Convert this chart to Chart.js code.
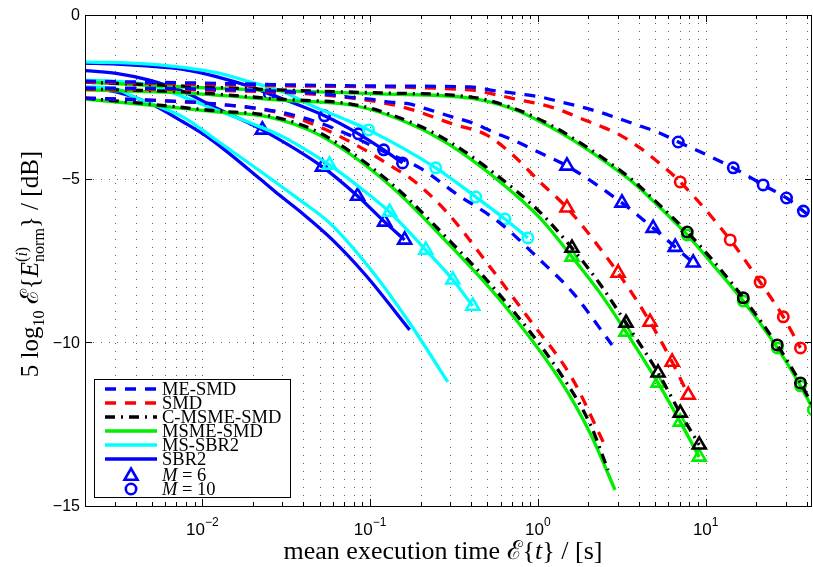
<!DOCTYPE html>
<html><head><meta charset="utf-8">
<script src="https://cdn.jsdelivr.net/npm/chart.js@4/dist/chart.umd.min.js"></script>
<style>html,body{margin:0;padding:0;background:#fff}#wrap{width:813px;height:567px;position:relative}</style>
</head><body><div id="wrap"><canvas id="c" width="813" height="567"></canvas></div>
<script>
// ---------------- axis / labels ----------------
const xMin = 0.002, xMax = 43;
const yMin = -15, yMax = 0;
const xMajorTicks = [0.01, 0.1, 1, 10];
const xTickExponents = ['\u22122', '\u22121', '0', '1'];
const yTicks = [0, -5, -10, -15];
const yTickLabels = ['0', '\u22125', '\u221210', '\u221215'];
const yGridTicks = [-5, -10];
const seriesNames = ['ME-SMD', 'SMD', 'C-MSME-SMD', 'MSME-SMD', 'MS-SBR2', 'SBR2'];
const markerNames = ['6', '10'];

// ---------------- SBR2 (blue solid) ----------------
const sbr2UnX  = [0.002, 0.00307, 0.00483, 0.0077, 0.0112, 0.0225, 0.0288, 0.038, 0.0597, 0.0953, 0.172];
const sbr2UnY  = [-2.23, -2.35, -2.69, -3.27, -3.79, -5.04, -5.50, -5.99, -6.87, -7.98, -9.62];
const sbr2M6X  = [0.002, 0.00307, 0.00483, 0.0077, 0.0121, 0.0194, 0.0228, 0.052, 0.0842, 0.122, 0.1607];
const sbr2M6Y  = [-1.70, -1.78, -1.99, -2.34, -2.84, -3.33, -3.51, -4.64, -5.53, -6.32, -6.87];
const sbr2M10X = [0.002, 0.00307, 0.00483, 0.0077, 0.0121, 0.0194, 0.0251, 0.0535, 0.0853, 0.1205, 0.156];
const sbr2M10Y = [-1.47, -1.50, -1.56, -1.66, -1.88, -2.19, -2.41, -3.08, -3.63, -4.12, -4.52];
const sbr2TriX = [0.0228, 0.052, 0.0842, 0.122, 0.1607];
const sbr2TriY = [-3.51, -4.64, -5.53, -6.32, -6.87];
const sbr2CirX = [0.0251, 0.0535, 0.0853, 0.1205, 0.156];
const sbr2CirY = [-2.41, -3.08, -3.63, -4.12, -4.52];

// ---------------- MS-SBR2 (cyan solid) ----------------
const msSbr2UnX  = [0.002, 0.00307, 0.00388, 0.0077, 0.0121, 0.0262, 0.038, 0.0573, 0.0993, 0.172, 0.2904];
const msSbr2UnY  = [-2.20, -2.26, -2.50, -3.12, -3.82, -5.04, -5.65, -6.35, -7.73, -9.41, -11.21];
const msSbr2M6X  = [0.002, 0.00352, 0.00483, 0.0077, 0.0121, 0.0194, 0.0305, 0.0573, 0.083, 0.1306, 0.2146, 0.311, 0.409];
const msSbr2M6Y  = [-1.99, -2.05, -2.14, -2.50, -2.90, -3.30, -3.73, -4.58, -5.19, -6.02, -7.18, -8.09, -8.89];
const msSbr2M10X = [0.002, 0.00483, 0.0121, 0.0194, 0.0305, 0.0454, 0.0724, 0.098, 0.246, 0.4266, 0.6355, 0.8715];
const msSbr2M10Y = [-1.43, -1.50, -1.76, -2.05, -2.35, -2.78, -3.21, -3.51, -4.67, -5.56, -6.23, -6.81];
const msSbr2TriX = [0.0573, 0.1306, 0.2146, 0.311, 0.409];
const msSbr2TriY = [-4.58, -6.02, -7.18, -8.09, -8.89];
const msSbr2CirX = [0.098, 0.246, 0.4266, 0.6355, 0.8715];
const msSbr2CirY = [-3.51, -4.67, -5.56, -6.23, -6.81];

// ---------------- MSME-SMD (green solid) ----------------
const msmeUnX  = [0.002, 0.00483, 0.0121, 0.0251, 0.050, 0.1306, 0.2985, 0.593, 1.353, 2.044, 2.883];
const msmeUnY  = [-2.57, -2.75, -2.96, -3.12, -3.67, -5.19, -7.03, -8.70, -11.15, -12.77, -14.51];
const msmeM6X  = [0.002, 0.0077, 0.0288, 0.083, 0.1795, 0.2985, 0.5383, 1.028, 1.596, 2.344, 3.35, 5.2, 7.05, 9.15];
const msmeM6Y  = [-2.29, -2.38, -2.60, -2.78, -3.36, -3.97, -4.92, -6.20, -7.39, -8.49, -9.68, -11.24, -12.43, -13.50];
const msmeM10X = [0.002, 0.00256, 0.0077, 0.0288, 0.114, 0.3926, 0.7096, 1.102, 1.618, 2.582, 3.54, 4.66, 7.76, 11.09, 16.75, 26.7, 36.7, 43.8];
const msmeM10Y = [-2.05, -2.08, -2.20, -2.31, -2.41, -2.54, -2.87, -3.33, -3.82, -4.52, -5.04, -5.59, -6.72, -7.64, -8.74, -10.17, -11.33, -12.06];
const msmeTriX = [1.596, 3.35, 5.2, 7.05, 9.15];
const msmeTriY = [-7.39, -9.68, -11.24, -12.43, -13.50];
const msmeCirX = [7.76, 16.75, 26.7, 36.7, 43.8];
const msmeCirY = [-6.72, -8.74, -10.17, -11.33, -12.06];

// ---------------- C-MSME-SMD (black dash-dot) ----------------
const cmsmeUnX  = [0.002, 0.00483, 0.0121, 0.0251, 0.050, 0.1306, 0.2985, 0.593, 1.353, 2.044, 2.618];
const cmsmeUnY  = [-2.54, -2.72, -2.93, -3.08, -3.60, -5.10, -6.90, -8.55, -10.93, -12.49, -13.90];
const cmsmeM6X  = [0.002, 0.0077, 0.0288, 0.083, 0.1795, 0.2985, 0.5383, 1.028, 1.596, 2.344, 3.35, 5.2, 7.05, 9.15];
const cmsmeM6Y  = [-2.26, -2.35, -2.57, -2.75, -3.30, -3.88, -4.80, -6.02, -7.12, -8.22, -9.41, -10.93, -12.16, -13.13];
const cmsmeM10X = [0.002, 0.0077, 0.0288, 0.114, 0.3926, 0.7096, 1.102, 1.618, 2.582, 3.54, 4.66, 7.76, 11.09, 16.75, 26.7, 36.7, 43.2];
const cmsmeM10Y = [-2.05, -2.17, -2.29, -2.38, -2.50, -2.84, -3.27, -3.76, -4.46, -4.98, -5.53, -6.63, -7.51, -8.64, -10.08, -11.24, -11.91];
const cmsmeTriX = [1.596, 3.35, 5.2, 7.05, 9.15];
const cmsmeTriY = [-7.12, -9.41, -10.93, -12.16, -13.13];
const cmsmeCirX = [7.76, 16.75, 26.7, 36.7];
const cmsmeCirY = [-6.63, -8.64, -10.08, -11.24];

// ---------------- SMD (red dashed) ----------------
const smdUnX  = [0.002, 0.00483, 0.0121, 0.0288, 0.050, 0.0865, 0.136, 0.1795, 0.2864, 0.4966, 0.896, 1.596, 2.48];
const smdUnY  = [-2.54, -2.60, -2.72, -2.99, -3.42, -4.03, -4.64, -5.04, -6.02, -7.57, -9.32, -11.09, -13.10];
const smdM6X  = [0.002, 0.0096, 0.052, 0.1306, 0.1795, 0.311, 0.4966, 0.7096, 1.028, 1.49, 3.006, 4.66, 6.31, 7.87];
const smdM6Y  = [-2.26, -2.29, -2.44, -2.72, -2.90, -3.33, -3.67, -4.28, -5.10, -5.89, -7.88, -9.38, -10.60, -11.61];
const smdM10X = [0.002, 0.038, 0.3926, 0.569, 0.7816, 1.028, 1.353, 1.782, 2.344, 3.09, 4.06, 5.35, 7.05, 14.0, 21.1, 29.0, 36.7];
const smdM10Y = [-2.05, -2.17, -2.29, -2.44, -2.60, -2.72, -2.90, -3.15, -3.39, -3.67, -4.06, -4.55, -5.10, -6.87, -8.16, -9.22, -10.17];
const smdTriX = [1.49, 3.006, 4.66, 6.31, 7.87];
const smdTriY = [-5.89, -7.88, -9.38, -10.60, -11.61];
const smdCirX = [7.05, 14.0, 21.1, 29.0, 36.7];
const smdCirY = [-5.10, -6.87, -8.16, -9.22, -10.17];

// ---------------- ME-SMD (blue dashed) ----------------
const meSmdUnX  = [0.002, 0.00483, 0.0121, 0.0288, 0.050, 0.0755, 0.122, 0.1977, 0.328, 0.593, 1.028, 1.618, 2.765];
const meSmdUnY  = [-2.54, -2.60, -2.72, -2.96, -3.30, -3.67, -4.18, -4.67, -5.47, -6.35, -7.48, -8.49, -10.08];
const meSmdM6X  = [0.002, 0.0096, 0.052, 0.0724, 0.0993, 0.1306, 0.165, 0.2266, 0.311, 0.409, 0.5383, 0.7096, 1.028, 1.49, 3.17, 4.86, 6.58, 8.42];
const meSmdM6Y  = [-2.23, -2.26, -2.41, -2.50, -2.57, -2.66, -2.70, -2.90, -3.12, -3.30, -3.57, -3.82, -4.21, -4.61, -5.74, -6.51, -7.09, -7.57];
const meSmdM10X = [0.002, 0.0096, 0.038, 0.114, 0.3926, 0.569, 0.7816, 1.028, 1.353, 1.782, 2.344, 3.09, 4.06, 5.35, 6.86, 9.27, 14.6, 22.0, 30.3, 38.2, 43.5];
const meSmdM10Y = [-2.02, -2.08, -2.14, -2.17, -2.20, -2.32, -2.41, -2.50, -2.65, -2.80, -2.97, -3.18, -3.39, -3.61, -3.88, -4.18, -4.67, -5.19, -5.59, -5.99, -6.20];
const meSmdTriX = [1.49, 3.17, 4.86, 6.58, 8.42];
const meSmdTriY = [-4.61, -5.74, -6.51, -7.09, -7.57];
const meSmdCirX = [6.86, 14.6, 22.0, 30.3, 38.2];
const meSmdCirY = [-3.88, -4.67, -5.19, -5.59, -5.99];

// ---------------- styles ----------------
const BLUE = '#0000ff', RED = '#ff0000', BLACK = '#000000', GREEN = '#00ee00', CYAN = '#00ffff';
const LW = 3.3;
const DASH = [11, 9];
const DASHDOT = [10, 6, 2, 6];
const SERIF = '"Liberation Serif", "Times New Roman", "DejaVu Serif", serif';
const SANS = '"Liberation Sans", Arial, Helvetica, sans-serif';

function pts(xs, ys) { return xs.map((x, i) => ({ x: x, y: ys[i] })); }
function lineDs(xs, ys, color, dash) {
  return { data: pts(xs, ys), showLine: true, borderColor: color, borderWidth: LW,
    borderDash: dash || [], pointRadius: 0, fill: false, cubicInterpolationMode: 'monotone',
    borderCapStyle: 'butt', borderJoinStyle: 'round' };
}
function markDs(xs, ys, color, style) {
  return { data: pts(xs, ys), showLine: false, pointStyle: style,
    pointRadius: style === 'triangle' ? 7.5 : 5.2, pointBorderWidth: 2.6,
    pointBorderColor: color, pointBackgroundColor: 'rgba(0,0,0,0)' };
}

// bottom -> top
const families = [
  { c: BLUE,  d: null,    un: [sbr2UnX, sbr2UnY],   m6: [sbr2M6X, sbr2M6Y],   m10: [sbr2M10X, sbr2M10Y],   tri: [sbr2TriX, sbr2TriY],   cir: [sbr2CirX, sbr2CirY] },
  { c: CYAN,  d: null,    un: [msSbr2UnX, msSbr2UnY], m6: [msSbr2M6X, msSbr2M6Y], m10: [msSbr2M10X, msSbr2M10Y], tri: [msSbr2TriX, msSbr2TriY], cir: [msSbr2CirX, msSbr2CirY] },
  { c: GREEN, d: null,    un: [msmeUnX, msmeUnY],   m6: [msmeM6X, msmeM6Y],   m10: [msmeM10X, msmeM10Y],   tri: [msmeTriX, msmeTriY],   cir: [msmeCirX, msmeCirY] },
  { c: BLACK, d: DASHDOT, un: [cmsmeUnX, cmsmeUnY], m6: [cmsmeM6X, cmsmeM6Y], m10: [cmsmeM10X, cmsmeM10Y], tri: [cmsmeTriX, cmsmeTriY], cir: [cmsmeCirX, cmsmeCirY] },
  { c: RED,   d: DASH,    un: [smdUnX, smdUnY],     m6: [smdM6X, smdM6Y],     m10: [smdM10X, smdM10Y],     tri: [smdTriX, smdTriY],     cir: [smdCirX, smdCirY] },
  { c: BLUE,  d: DASH,    un: [meSmdUnX, meSmdUnY], m6: [meSmdM6X, meSmdM6Y], m10: [meSmdM10X, meSmdM10Y], tri: [meSmdTriX, meSmdTriY], cir: [meSmdCirX, meSmdCirY] }
];
const stack = [];
families.forEach(f => {
  stack.push(lineDs(f.un[0], f.un[1], f.c, f.d));
  stack.push(lineDs(f.m6[0], f.m6[1], f.c, f.d));
  stack.push(lineDs(f.m10[0], f.m10[1], f.c, f.d));
  stack.push(markDs(f.tri[0], f.tri[1], f.c, 'triangle'));
  stack.push(markDs(f.cir[0], f.cir[1], f.c, 'circle'));
});
stack.forEach((d, i) => { d.order = stack.length - i; });

// legend entries (top to bottom, legend order)
const legendLines = [
  { name: seriesNames[0], c: BLUE,  d: DASH },
  { name: seriesNames[1], c: RED,   d: DASH },
  { name: seriesNames[2], c: BLACK, d: DASHDOT },
  { name: seriesNames[3], c: GREEN, d: [] },
  { name: seriesNames[4], c: CYAN,  d: [] },
  { name: seriesNames[5], c: BLUE,  d: [] }
];

function runsWidth(ctx, runs) {
  let w = 0;
  runs.forEach(r => {
    if (r.group) { w += Math.max(...r.group.map(g => runsWidth(ctx, g))); }
    else { ctx.font = r.f; w += ctx.measureText(r.t).width; }
  });
  return w;
}
function drawRuns(ctx, runs, x, y) {
  let cx = x;
  runs.forEach(r => {
    if (r.group) {
      const ws = r.group.map(g => runsWidth(ctx, g));
      r.group.forEach(g => drawRuns(ctx, g, cx, y));
      cx += Math.max(...ws);
    } else {
      ctx.font = r.f; ctx.fillText(r.t, cx, y + (r.dy || 0));
      cx += ctx.measureText(r.t).width;
    }
  });
}
function drawTriangle(ctx, x, y, r) {
  let rad = 0;
  ctx.beginPath();
  ctx.moveTo(x + Math.sin(rad) * r, y - Math.cos(rad) * r);
  rad += 2 * Math.PI / 3;
  ctx.lineTo(x + Math.sin(rad) * r, y - Math.cos(rad) * r);
  rad += 2 * Math.PI / 3;
  ctx.lineTo(x + Math.sin(rad) * r, y - Math.cos(rad) * r);
  ctx.closePath();
  ctx.stroke();
}

const decor = {
  id: 'decor',
  beforeDatasetsDraw(chart) {
    const ctx = chart.ctx, a = chart.chartArea, xs = chart.scales.x, ys = chart.scales.y;
    ctx.save();
    ctx.strokeStyle = 'rgba(0,0,0,0.6)';
    ctx.lineWidth = 1;
    ctx.setLineDash([1, 7]);
    for (let e = -3; e <= 1; e++) {
      for (let m = 1; m <= 9; m++) {
        const v = m * Math.pow(10, e);
        if (v <= xMin || v >= xMax) continue;
        const px = Math.round(xs.getPixelForValue(v)) + 0.5;
        ctx.beginPath(); ctx.moveTo(px, a.top); ctx.lineTo(px, a.bottom); ctx.stroke();
      }
    }
    yGridTicks.forEach(v => {
      const py = Math.round(ys.getPixelForValue(v)) + 0.5;
      ctx.beginPath(); ctx.moveTo(a.left, py); ctx.lineTo(a.right, py); ctx.stroke();
    });
    ctx.restore();
  },
  afterDatasetsDraw(chart) {
    const ctx = chart.ctx, a = chart.chartArea, xs = chart.scales.x, ys = chart.scales.y;
    ctx.save();
    ctx.setLineDash([]);
    ctx.strokeStyle = '#000'; ctx.lineWidth = 1;
    // box
    ctx.strokeRect(Math.round(a.left) + 0.5, Math.round(a.top) + 0.5, Math.round(a.right - a.left) - 1, Math.round(a.bottom - a.top));
    // x ticks
    for (let e = -3; e <= 1; e++) {
      for (let m = 1; m <= 9; m++) {
        const v = m * Math.pow(10, e);
        if (v <= xMin || v >= xMax) continue;
        const px = Math.round(xs.getPixelForValue(v)) + 0.5;
        const len = m === 1 ? 7 : 4;
        ctx.beginPath();
        ctx.moveTo(px, a.bottom); ctx.lineTo(px, a.bottom - len);
        ctx.moveTo(px, a.top); ctx.lineTo(px, a.top + len);
        ctx.stroke();
      }
    }
    // y ticks
    yTicks.forEach(v => {
      const py = Math.round(ys.getPixelForValue(v)) + 0.5;
      ctx.beginPath();
      ctx.moveTo(a.left, py); ctx.lineTo(a.left + 7, py);
      ctx.moveTo(a.right, py); ctx.lineTo(a.right - 7, py);
      ctx.stroke();
    });
    // y tick labels
    ctx.fillStyle = '#000';
    ctx.font = '16px ' + SANS;
    ctx.textAlign = 'right'; ctx.textBaseline = 'middle';
    yTicks.forEach((v, i) => { ctx.fillText(yTickLabels[i], a.left - 5, ys.getPixelForValue(v) + 1); });
    // x tick labels 10^e
    ctx.textAlign = 'left'; ctx.textBaseline = 'alphabetic';
    xMajorTicks.forEach((v, i) => {
      const px = xs.getPixelForValue(v);
      const runs = [{ t: '10', f: '17px ' + SANS }, { t: xTickExponents[i], f: '12px ' + SANS, dy: -9 }];
      const w = runsWidth(ctx, runs);
      drawRuns(ctx, runs, px - w / 2, a.bottom + 29);
    });
    // x axis title
    const F = '26px ' + SERIF, FI = 'italic 26px ' + SERIF;
    const xRuns = [{ t: 'mean execution time ', f: F }, { t: '\u2130', f: F }, { t: '{', f: F }, { t: 't', f: FI }, { t: '}', f: F }, { t: ' / [s]', f: F }];
    const xw = runsWidth(ctx, xRuns);
    drawRuns(ctx, xRuns, 443 - xw / 2, 559);
    // y axis title (rotated)
    const FY = '25px ' + SERIF, FYI = 'italic 25px ' + SERIF;
    const S = '16px ' + SERIF, SI = 'italic 16px ' + SERIF;
    const yRuns = [
      { t: '5 log', f: FY }, { t: '10', f: S, dy: 6 }, { t: ' \u2130{', f: FY }, { t: 'E', f: FYI },
      { group: [
        [{ t: '(', f: S, dy: -11 }, { t: 'i', f: SI, dy: -11 }, { t: ')', f: S, dy: -11 }],
        [{ t: 'norm', f: S, dy: 6 }]
      ] },
      { t: '}', f: FY }, { t: ' / [dB]', f: FY }
    ];
    const yw = runsWidth(ctx, yRuns);
    ctx.save();
    ctx.translate(38, 264);
    ctx.rotate(-Math.PI / 2);
    drawRuns(ctx, yRuns, -yw / 2, 0);
    ctx.restore();
    // legend
    const L = 94, T = 379, R = 290, B = 497;
    ctx.fillStyle = '#fff';
    ctx.fillRect(L, T, R - L, B - T);
    ctx.strokeStyle = '#000'; ctx.lineWidth = 1;
    ctx.strokeRect(L + 0.5, T + 0.5, R - L, B - T);
    const rowY = [389, 403, 417, 431, 445, 459, 475, 489];
    ctx.textAlign = 'left'; ctx.textBaseline = 'alphabetic';
    const LF = '18.5px ' + SERIF, LFI = 'italic 18.5px ' + SERIF;
    legendLines.forEach((e, i) => {
      ctx.strokeStyle = e.c; ctx.lineWidth = LW; ctx.setLineDash(e.d);
      ctx.beginPath(); ctx.moveTo(105, rowY[i]); ctx.lineTo(157, rowY[i]); ctx.stroke();
      ctx.setLineDash([]);
      ctx.fillStyle = '#000'; ctx.font = LF;
      ctx.fillText(e.name, 162, rowY[i] + 6);
    });
    ctx.strokeStyle = BLUE; ctx.lineWidth = 2.6; ctx.setLineDash([]);
    drawTriangle(ctx, 131, rowY[6] + 1, 7.5);
    ctx.beginPath(); ctx.arc(131, rowY[7], 5.2, 0, Math.PI * 2); ctx.stroke();
    ctx.fillStyle = '#000';
    drawRuns(ctx, [{ t: 'M', f: LFI }, { t: ' = ', f: LF }, { t: markerNames[0], f: LF }], 162, rowY[6] + 6);
    drawRuns(ctx, [{ t: 'M', f: LFI }, { t: ' = ', f: LF }, { t: markerNames[1], f: LF }], 162, rowY[7] + 6);
    ctx.restore();
  }
};

new Chart(document.getElementById('c'), {
  type: 'scatter',
  data: { datasets: stack },
  options: {
    responsive: false, animation: false, events: [],
    devicePixelRatio: 1,
    layout: { autoPadding: false, padding: { left: 0, right: 1, top: 15, bottom: 0 } },
    plugins: { legend: { display: false }, tooltip: { enabled: false }, title: { display: false } },
    scales: {
      x: { type: 'logarithmic', min: xMin, max: xMax,
        grid: { display: false }, border: { display: false }, ticks: { display: false },
        afterFit: s => { s.height = 61; } },
      y: { type: 'linear', min: yMin, max: yMax,
        grid: { display: false }, border: { display: false }, ticks: { display: false },
        afterFit: s => { s.width = 85; } }
    }
  },
  plugins: [decor]
});
</script>
</body></html>
